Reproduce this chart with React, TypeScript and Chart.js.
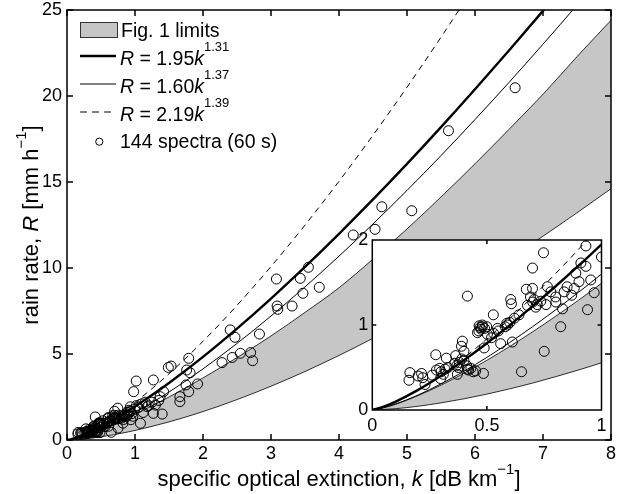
import React, { useEffect, useRef } from 'react';
import { Chart, registerables } from 'chart.js';

Chart.register(...registerables);

const FONT = '"Liberation Sans", Arial, Helvetica, sans-serif';

// ---- data -------------------------------------------------------------
// sample abscissae for the fitted power-law curves (k, dB/km)
const curveK = [0, 0.05, 0.1, 0.2, 0.3, 0.4, 0.5, 0.6, 0.7, 0.8, 0.9, 1, 1.25, 1.5, 2, 2.5, 3, 3.5, 4, 4.5, 5, 5.5, 6, 6.5, 7, 7.5, 8];
// R = 1.95 k^1.31 (thick)
const fitThick = [0, 0.0385, 0.0955, 0.237, 0.403, 0.587, 0.786, 0.999, 1.222, 1.456, 1.698, 1.95, 2.612, 3.317, 4.835, 6.477, 8.224, 10.065, 11.989, 13.987, 16.057, 18.193, 20.39, 22.65, 24.95, 27.31, 29.72];
// R = 1.60 k^1.37 (thin)
const fitThin = [0, 0.0264, 0.0683, 0.1765, 0.3075, 0.456, 0.619, 0.795, 0.981, 1.179, 1.385, 1.6, 2.172, 2.788, 4.135, 5.614, 7.208, 8.903, 10.689, 12.562, 14.511, 16.535, 18.632, 20.789, 23.011, 25.29, 27.63];
// R = 2.19 k^1.39 (dashed), first 23 abscissae (k <= 6)
const fitDashed = [0, 0.0341, 0.0892, 0.234, 0.411, 0.613, 0.836, 1.077, 1.334, 1.606, 1.891, 2.19, 2.986, 3.848, 5.739, 7.827, 10.085, 12.495, 15.042, 17.719, 20.511, 23.416, 26.43];

// "Fig. 1 limits" band
const bandK = [0, 0.1, 0.2, 0.3, 0.4, 0.5, 0.6, 0.7, 0.8, 0.9, 1, 1.5, 2, 2.5, 3, 3.5, 4, 4.5, 5, 5.5, 6, 6.5, 7, 7.5, 8];
const bandUpper = [0, 0.067, 0.17, 0.293, 0.432, 0.585, 0.748, 0.921, 1.103, 1.292, 1.49, 2.5, 3.61, 4.79, 6.05, 7.42, 8.85, 10.52, 12.27, 14.13, 16.06, 18.06, 20.1, 22.29, 24.4];
const bandLower = [0, 0.0149, 0.0443, 0.0838, 0.1317, 0.187, 0.249, 0.317, 0.392, 0.471, 0.556, 1.052, 1.653, 2.348, 3.127, 3.984, 4.915, 5.915, 6.979, 8.108, 9.3, 10.54, 11.85, 13.21, 14.61];

// 144 spectra (60 s)
const spectraK = [
  0.164, 0.16, 0.215, 0.23, 0.262, 0.277, 0.294, 0.298, 0.317, 0.323,
  0.364, 0.368, 0.371, 0.389, 0.393, 0.4, 0.412, 0.415, 0.415, 0.451,
  0.485, 0.459, 0.466, 0.48, 0.499, 0.502, 0.488, 0.528, 0.546, 0.56,
  0.587, 0.604, 0.607, 0.611, 0.651, 0.672, 0.677, 0.699, 0.699, 0.706,
  0.713, 0.735, 0.75, 0.747, 0.758, 0.764, 0.779, 0.801, 0.822, 0.83,
  0.837, 0.881, 0.888, 0.902, 0.91, 0.932, 0.932, 0.939, 0.953, 0.968,
  0.47, 0.475, 0.49, 0.465, 0.48, 0.38, 0.39, 0.375, 0.36, 0.4,
  0.3, 0.31, 0.28, 0.33, 0.59, 0.6, 0.58, 0.7, 0.72, 0.69,
  0.2, 0.22, 0.42, 0.43, 0.44, 0.52, 0.53, 0.55, 0.62, 0.64,
  0.8, 0.85, 0.87,
  1.018, 0.98, 1.27, 1.49, 1.53, 1.79, 1.76, 1.81, 1.92, 1.75,
  1.79, 1.66, 1.66, 1.42, 1.37, 1.3, 1.4, 1.27, 1.08, 1.18,
  2.28, 2.43, 2.55, 2.4, 2.47, 2.7, 2.73, 2.83, 3.08, 3.09,
  3.1, 3.31, 3.43, 3.55, 3.47, 3.71, 6.59, 5.61, 4.63, 5.07,
  4.53, 4.21,
  1.05, 1.1, 1.15, 1.2, 1.0, 1.12, 1.25, 1.35, 1.02,
];
const spectraR = [
  0.44, 0.35, 0.43, 0.3, 0.41, 0.65, 0.49, 0.37, 0.48, 0.61,
  0.64, 0.52, 0.42, 0.75, 0.81, 0.69, 0.52, 1.34, 0.48, 0.46,
  0.43, 0.91, 0.99, 0.98, 0.98, 0.89, 0.73, 1.12, 0.96, 0.78,
  1.02, 1.3, 1.25, 0.8, 0.45, 1.42, 1.23, 1.43, 1.67, 1.3,
  1.21, 1.28, 0.69, 1.85, 1.24, 1.45, 1.39, 1.27, 0.98, 1.19,
  1.39, 1.43, 1.61, 1.51, 1.73, 1.93, 1.69, 1.18, 1.53, 1.38,
  0.97, 0.95, 0.96, 0.93, 1.0, 0.56, 0.6, 0.5, 0.55, 0.58,
  0.45, 0.42, 0.47, 0.5, 1.0, 1.03, 0.98, 1.27, 1.24, 1.33,
  0.4, 0.38, 0.47, 0.49, 0.45, 0.85, 0.9, 0.93, 1.08, 1.12,
  1.33, 1.45, 1.35,
  3.43, 2.81, 3.49, 4.22, 4.3, 4.75, 4.07, 3.91, 3.26, 3.2,
  2.81, 2.52, 2.23, 2.81, 2.52, 2.03, 1.51, 1.55, 0.97, 1.94,
  4.5, 4.8, 5.04, 6.4, 5.97, 5.08, 4.61, 6.16, 9.36, 7.79,
  7.6, 7.79, 9.4, 10.04, 8.53, 8.88, 20.48, 17.98, 13.56, 13.33,
  12.25, 11.92,
  1.9, 2.1, 2.2, 2.0, 1.8, 1.6, 2.2, 2.3, 2.0,
];

const mainXTicks = [0, 1, 2, 3, 4, 5, 6, 7, 8];
const mainYTicks = [0, 5, 10, 15, 20, 25];
const insetXTicks = [0, 0.5, 1];
const insetYTicks = [0, 1, 2];

const legendLabels = ['Fig. 1 limits', 'R = 1.95k^1.31', 'R = 1.60k^1.37', 'R = 2.19k^1.39', '144 spectra (60 s)'];

// ---- helpers -----------------------------------------------------------
const GRAY = '#c6c6c6';

type Seg = { t: string; it?: boolean; sup?: boolean };

function drawRich(
  ctx: CanvasRenderingContext2D,
  segs: Seg[],
  x: number,
  y: number,
  size: number,
  align: 'left' | 'center',
  supRaise = 0.72
) {
  const supSize = Math.round(size * 0.68);
  const fontFor = (s: Seg) => `${s.it ? 'italic ' : ''}${s.sup ? supSize : size}px ${FONT}`;
  const widths = segs.map((s) => {
    ctx.font = fontFor(s);
    return ctx.measureText(s.t).width;
  });
  const total = widths.reduce((a, b) => a + b, 0);
  let cx = align === 'center' ? x - total / 2 : x;
  ctx.textAlign = 'left';
  ctx.textBaseline = 'alphabetic';
  ctx.fillStyle = '#000';
  segs.forEach((s, i) => {
    ctx.font = fontFor(s);
    ctx.fillText(s.t, cx, s.sup ? y - size * supRaise : y);
    cx += widths[i];
  });
}

function eqSegs(label: string): Seg[] {
  const m = label.match(/^R = ([\d.]+)k\^([\d.]+)$/);
  if (!m) return [{ t: label }];
  return [{ t: 'R', it: true }, { t: ' = ' + m[1] }, { t: 'k', it: true }, { t: m[2], sup: true }];
}

function toPts(xs: number[], ys: number[]) {
  return ys.map((y, i) => ({ x: xs[i], y }));
}

function makeDatasets(pointR: number) {
  return [
    {
      label: legendLabels[4],
      data: toPts(spectraK, spectraR),
      showLine: false,
      pointRadius: pointR,
      pointBorderColor: '#000',
      pointBackgroundColor: 'rgba(0,0,0,0)',
      pointBorderWidth: 1,
    },
    {
      label: legendLabels[1],
      data: toPts(curveK, fitThick),
      showLine: true,
      borderColor: '#000',
      borderWidth: 2.4,
      pointRadius: 0,
      cubicInterpolationMode: 'monotone' as const,
    },
    {
      label: legendLabels[2],
      data: toPts(curveK, fitThin),
      showLine: true,
      borderColor: '#000',
      borderWidth: 1,
      pointRadius: 0,
      cubicInterpolationMode: 'monotone' as const,
    },
    {
      label: legendLabels[3],
      data: toPts(curveK, fitDashed),
      showLine: true,
      borderColor: '#000',
      borderWidth: 1,
      borderDash: [6, 5],
      pointRadius: 0,
      cubicInterpolationMode: 'monotone' as const,
    },
    {
      label: legendLabels[0],
      data: toPts(bandK, bandUpper),
      showLine: true,
      borderColor: '#000',
      borderWidth: 0.8,
      backgroundColor: GRAY,
      fill: '+1',
      pointRadius: 0,
      cubicInterpolationMode: 'monotone' as const,
    },
    {
      label: 'lower',
      data: toPts(bandK, bandLower),
      showLine: true,
      borderColor: '#000',
      borderWidth: 0.8,
      fill: false,
      pointRadius: 0,
      cubicInterpolationMode: 'monotone' as const,
    },
  ];
}

function framePlugin(xTicks: number[], yTicks: number[], len: number, lw: number, whiteBg: boolean) {
  return {
    id: 'frame',
    beforeDraw(chart: any) {
      if (!whiteBg) return;
      const { ctx, chartArea: a } = chart;
      ctx.save();
      ctx.fillStyle = '#fff';
      ctx.fillRect(a.left, a.top, a.right - a.left, a.bottom - a.top);
      ctx.restore();
    },
    afterDatasetsDraw(chart: any) {
      const { ctx, chartArea: a, scales } = chart;
      ctx.save();
      ctx.strokeStyle = '#000';
      ctx.lineWidth = lw;
      ctx.beginPath();
      xTicks.forEach((v) => {
        const px = scales.x.getPixelForValue(v);
        ctx.moveTo(px, a.bottom);
        ctx.lineTo(px, a.bottom - len);
        ctx.moveTo(px, a.top);
        ctx.lineTo(px, a.top + len);
      });
      yTicks.forEach((v) => {
        const py = scales.y.getPixelForValue(v);
        ctx.moveTo(a.left, py);
        ctx.lineTo(a.left + len, py);
        ctx.moveTo(a.right, py);
        ctx.lineTo(a.right - len, py);
      });
      ctx.stroke();
      ctx.strokeRect(a.left, a.top, a.right - a.left, a.bottom - a.top);
      ctx.restore();
    },
  };
}

const annotationPlugin = {
  id: 'annot',
  afterDraw(chart: any) {
    const { ctx, chartArea: a } = chart;
    ctx.save();
    // axis titles
    const ts = 22;
    drawRich(
      ctx,
      [{ t: 'specific optical extinction, ' }, { t: 'k', it: true }, { t: ' [dB km' }, { t: '\u22121', sup: true }, { t: ']' }],
      (a.left + a.right) / 2,
      486,
      ts,
      'center',
      0.55
    );
    ctx.save();
    ctx.translate(38, (a.top + a.bottom) / 2);
    ctx.rotate(-Math.PI / 2);
    drawRich(
      ctx,
      [{ t: 'rain rate, ' }, { t: 'R', it: true }, { t: ' [mm h' }, { t: '\u22121', sup: true }, { t: ']' }],
      0,
      0,
      ts,
      'center',
      0.55
    );
    ctx.restore();

    // legend
    const ls = 19.5;
    const tx = 120;
    ctx.fillStyle = GRAY;
    ctx.fillRect(80, 22, 38, 16);
    ctx.strokeStyle = '#333';
    ctx.lineWidth = 1;
    ctx.strokeRect(80.5, 22.5, 37, 15);
    drawRich(ctx, [{ t: legendLabels[0] }], tx + 1, 36.7, ls, 'left');
    const rows = [
      { y: 56, lw: 2.4, dash: [] as number[], base: 65, label: legendLabels[1] },
      { y: 84, lw: 1, dash: [] as number[], base: 92.7, label: legendLabels[2] },
      { y: 112, lw: 1, dash: [7, 5], base: 120.7, label: legendLabels[3] },
    ];
    rows.forEach((r) => {
      ctx.strokeStyle = '#000';
      ctx.lineWidth = r.lw;
      ctx.setLineDash(r.dash);
      ctx.beginPath();
      ctx.moveTo(80, r.y);
      ctx.lineTo(116, r.y);
      ctx.stroke();
      ctx.setLineDash([]);
      drawRich(ctx, eqSegs(r.label), tx, r.base, ls, 'left', 0.7);
    });
    ctx.strokeStyle = '#000';
    ctx.lineWidth = 1;
    ctx.beginPath();
    ctx.arc(99.3, 141.7, 3.6, 0, Math.PI * 2);
    ctx.stroke();
    drawRich(ctx, [{ t: legendLabels[4] }], tx, 148.3, ls, 'left');
    ctx.restore();
  },
};

function zeroPad(s: any) {
  s.paddingLeft = 0;
  s.paddingRight = 0;
  s.paddingTop = 0;
  s.paddingBottom = 0;
}

const plainLabel = (v: any) => String(v);

export default function App() {
  const mainRef = useRef<HTMLCanvasElement>(null);
  const insetRef = useRef<HTMLCanvasElement>(null);

  useEffect(() => {
    const tickFont = { family: FONT, size: 18 };
    const main = new Chart(mainRef.current as HTMLCanvasElement, {
      type: 'scatter',
      data: { datasets: makeDatasets(5) as any },
      options: {
        animation: false,
        responsive: false,
        devicePixelRatio: 1,
        layout: { padding: { top: 10, right: 15, left: 0, bottom: 0 } },
        plugins: {
          legend: { display: false },
          tooltip: { enabled: false },
          filler: { drawTime: 'beforeDatasetsDraw' },
        } as any,
        scales: {
          x: {
            type: 'linear',
            min: 0,
            max: 8,
            afterBuildTicks: (s: any) => {
              s.ticks = mainXTicks.map((v) => ({ value: v }));
            },
            ticks: { font: tickFont, color: '#000', padding: 3, maxRotation: 0, autoSkip: false, callback: plainLabel },
            grid: { display: false, drawTicks: false },
            border: { display: false },
            afterFit: (s: any) => {
              s.height = 54;
              zeroPad(s);
            },
          },
          y: {
            type: 'linear',
            min: 0,
            max: 25,
            afterBuildTicks: (s: any) => {
              s.ticks = mainYTicks.map((v) => ({ value: v }));
            },
            ticks: { font: tickFont, color: '#000', padding: 5, autoSkip: false, callback: plainLabel },
            grid: { display: false, drawTicks: false },
            border: { display: false },
            afterFit: (s: any) => {
              s.width = 67;
              zeroPad(s);
            },
          },
        },
      },
      plugins: [framePlugin(mainXTicks, mainYTicks, 6, 1.5, false), annotationPlugin],
    });

    const inset = new Chart(insetRef.current as HTMLCanvasElement, {
      type: 'scatter',
      data: { datasets: makeDatasets(5) as any },
      options: {
        animation: false,
        responsive: false,
        devicePixelRatio: 1,
        layout: { padding: { top: 20, right: 18.5, left: 0, bottom: 0 } },
        plugins: {
          legend: { display: false },
          tooltip: { enabled: false },
          filler: { drawTime: 'beforeDatasetsDraw' },
        } as any,
        scales: {
          x: {
            type: 'linear',
            min: 0,
            max: 1,
            afterBuildTicks: (s: any) => {
              s.ticks = insetXTicks.map((v) => ({ value: v }));
            },
            ticks: { font: tickFont, color: '#000', padding: 5, maxRotation: 0, autoSkip: false, callback: plainLabel },
            grid: { display: false, drawTicks: false },
            border: { display: false },
            afterFit: (s: any) => {
              s.height = 40;
              zeroPad(s);
            },
          },
          y: {
            type: 'linear',
            min: 0,
            max: 2,
            afterBuildTicks: (s: any) => {
              s.ticks = insetYTicks.map((v) => ({ value: v }));
            },
            ticks: { font: tickFont, color: '#000', padding: 4, autoSkip: false, callback: plainLabel },
            grid: { display: false, drawTicks: false },
            border: { display: false },
            afterFit: (s: any) => {
              s.width = 42.3;
              zeroPad(s);
            },
          },
        },
      },
      plugins: [framePlugin([0.5], [1], 4, 1.5, true)],
    });

    return () => {
      main.destroy();
      inset.destroy();
    };
  }, []);

  return (
    <div style={{ position: 'fixed', left: 0, top: 0, width: 626, height: 494, background: '#fff' }}>
      <canvas
        ref={mainRef}
        width={626}
        height={494}
        style={{ position: 'absolute', left: 0, top: 0, width: 626, height: 494 }}
      />
      <canvas
        ref={insetRef}
        width={290}
        height={230}
        style={{ position: 'absolute', left: 330, top: 220, width: 290, height: 230 }}
      />
    </div>
  );
}
